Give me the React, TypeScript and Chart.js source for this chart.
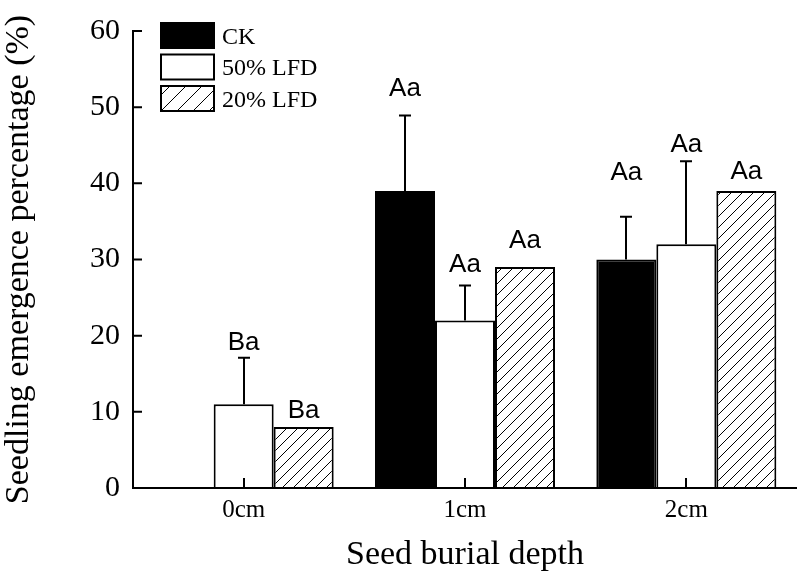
import React, { useEffect, useRef } from 'react';
import { Chart, registerables } from 'chart.js';

Chart.register(...registerables);

// ---- data ----
const categories = ['0cm', '1cm', '2cm'];
const seriesNames = ['CK', '50% LFD', '20% LFD'];
const ckValues = [0, 39, 30];
const lfd50Values = [11, 22, 32];
const lfd20Values = [8, 29, 39];
const ckErrors = [0, 9.9, 5.6];
const lfd50Errors = [6.1, 4.6, 10.9];
const lfd20Errors = [0, 0, 0];
const ckLetters = ['', 'Aa', 'Aa'];
const lfd50Letters = ['Ba', 'Aa', 'Aa'];
const lfd20Letters = ['Ba', 'Aa', 'Aa'];
const ckLetterPos = [0, 52.4, 41.4];
const lfd50LetterPos = [19.0, 29.3, 45.0];
const lfd20LetterPos = [10.1, 32.5, 41.5];
const yMin = 0;
const yMax = 60;
const yStep = 10;
const xTitle = 'Seed burial depth';
const yTitle = 'Seedling emergence percentage (%)';

const SERIF = '"Liberation Serif", "Times New Roman", serif';
const SANS = '"Liberation Sans", Arial, sans-serif';

function makeHatch(spacing: number): CanvasPattern | string {
  const c = document.createElement('canvas');
  c.width = spacing;
  c.height = spacing;
  const g = c.getContext('2d');
  if (!g) return '#fff';
  g.fillStyle = '#fff';
  g.fillRect(0, 0, spacing, spacing);
  g.strokeStyle = '#000';
  g.lineWidth = 1;
  g.beginPath();
  g.moveTo(0, spacing);
  g.lineTo(spacing, 0);
  g.moveTo(-1, 1);
  g.lineTo(1, -1);
  g.moveTo(spacing - 1, spacing + 1);
  g.lineTo(spacing + 1, spacing - 1);
  g.stroke();
  const p = g.createPattern(c, 'repeat');
  return p || '#fff';
}

export default function App() {
  const ref = useRef<HTMLCanvasElement | null>(null);

  useEffect(() => {
    if (!ref.current) return;
    const barHatch = makeHatch(11);
    const legendHatch = makeHatch(16);
    const errors = [ckErrors, lfd50Errors, lfd20Errors];
    const letters = [ckLetters, lfd50Letters, lfd20Letters];
    const letterPos = [ckLetterPos, lfd50LetterPos, lfd20LetterPos];
    const fills: any[] = ['#000', '#fff', barHatch];
    const legendFills: any[] = ['#000', '#fff', legendHatch];

    const overlay = {
      id: 'overlay',
      afterDatasetsDraw(chart: any) {
        const ctx = chart.ctx as CanvasRenderingContext2D;
        const { left, right, top, bottom } = chart.chartArea;
        const ys = chart.scales.y;
        const xs = chart.scales.x;
        ctx.save();
        ctx.strokeStyle = '#000';
        ctx.fillStyle = '#000';
        ctx.lineWidth = 2;
        // error bars
        chart.data.datasets.forEach((ds: any, i: number) => {
          const meta = chart.getDatasetMeta(i);
          meta.data.forEach((el: any, j: number) => {
            const e = errors[i][j];
            if (!e) return;
            const yT = ys.getPixelForValue(ds.data[j] + e);
            const x = Math.round(el.x);
            ctx.beginPath();
            ctx.moveTo(x, el.y);
            ctx.lineTo(x, yT);
            ctx.moveTo(x - 6, yT);
            ctx.lineTo(x + 6, yT);
            ctx.stroke();
          });
        });
        // significance letters
        ctx.font = '26px ' + SANS;
        ctx.textAlign = 'center';
        ctx.textBaseline = 'middle';
        chart.data.datasets.forEach((_ds: any, i: number) => {
          const meta = chart.getDatasetMeta(i);
          meta.data.forEach((el: any, j: number) => {
            const t = letters[i][j];
            if (!t) return;
            ctx.fillText(t, el.x, ys.getPixelForValue(letterPos[i][j]));
          });
        });
        // axes
        ctx.beginPath();
        ctx.moveTo(left, top - 1);
        ctx.lineTo(left, bottom + 1);
        ctx.moveTo(left - 1, bottom);
        ctx.lineTo(right, bottom);
        ctx.stroke();
        // inward ticks
        ctx.beginPath();
        ys.ticks.forEach((t: any) => {
          const y = ys.getPixelForValue(t.value);
          ctx.moveTo(left, y);
          ctx.lineTo(left + 9, y);
        });
        categories.forEach((_c, j) => {
          const x = Math.round(xs.getPixelForValue(j));
          ctx.moveTo(x, bottom);
          ctx.lineTo(x, bottom - 10);
        });
        ctx.stroke();
        // legend
        seriesNames.forEach((name, k) => {
          const bx = 160;
          const by = 22 + k * 31.5;
          const bw = 55;
          const bh = 27;
          ctx.fillStyle = legendFills[k];
          ctx.fillRect(bx, by, bw, bh);
          ctx.strokeStyle = '#000';
          ctx.lineWidth = 2;
          ctx.strokeRect(bx + 1, by + 1, bw - 2, bh - 2);
          ctx.fillStyle = '#000';
          ctx.font = '24px ' + SERIF;
          ctx.textAlign = 'left';
          ctx.textBaseline = 'middle';
          ctx.fillText(name, 222, by + bh / 2 + 2);
        });
        ctx.restore();
      },
    };

    const chart = new Chart(ref.current, {
      type: 'bar',
      data: {
        labels: categories,
        datasets: [
          { label: seriesNames[0], data: ckValues, backgroundColor: fills[0], borderColor: '#000', borderWidth: 2 },
          { label: seriesNames[1], data: lfd50Values, backgroundColor: fills[1], borderColor: '#000', borderWidth: 2 },
          { label: seriesNames[2], data: lfd20Values, backgroundColor: fills[2], borderColor: '#000', borderWidth: 2 },
        ],
      },
      options: {
        responsive: false,
        animation: false,
        events: [],
        layout: { padding: { left: 0, right: 3, top: 19, bottom: 0 } },
        datasets: { bar: { categoryPercentage: 0.8133, barPercentage: 1 } },
        plugins: { legend: { display: false }, tooltip: { enabled: false } },
        scales: {
          x: {
            offset: true,
            grid: { display: false, drawTicks: false },
            border: { display: false },
            ticks: { color: '#000', font: { family: SERIF, size: 25 }, padding: 7 },
            title: {
              display: true,
              text: xTitle,
              color: '#000',
              font: { family: SERIF, size: 34, lineHeight: 1.2 },
              padding: { top: 0, bottom: 3 },
            },
            afterFit: (s: any) => { s.height = 90; },
          },
          y: {
            min: yMin,
            max: yMax,
            grid: { display: false, drawTicks: false },
            border: { display: false },
            ticks: { stepSize: yStep, color: '#000', font: { family: SERIF, size: 30 }, padding: 13 },
            title: {
              display: true,
              text: yTitle,
              color: '#000',
              font: { family: SERIF, size: 34, lineHeight: 1.0 },
              padding: { top: 2, bottom: 0 },
            },
            afterFit: (s: any) => { s.width = 133; },
          },
        },
      },
      plugins: [overlay],
    } as any);
    return () => chart.destroy();
  }, []);

  return (
    <div style={{ position: 'fixed', left: 0, top: 0, width: 800, height: 578, background: '#fff' }}>
      <canvas ref={ref} width={800} height={578} />
    </div>
  );
}
